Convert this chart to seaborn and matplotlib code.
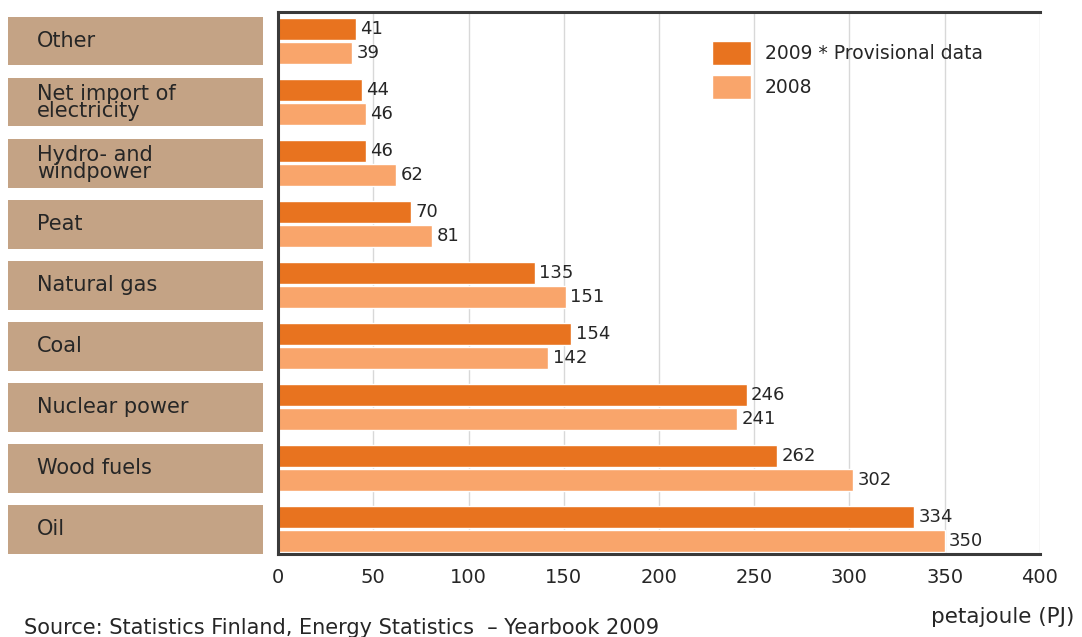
import numpy as np
import pandas as pd
import seaborn as sns
import matplotlib.pyplot as plt
from matplotlib.patches import Rectangle
from matplotlib.transforms import blended_transform_factory

categories = ["Other", "Net import of\nelectricity", "Hydro- and\nwindpower", "Peat",
              "Natural gas", "Coal", "Nuclear power", "Wood fuels", "Oil"]
values_2009 = [41, 44, 46, 70, 135, 154, 246, 262, 334]
values_2008 = [39, 46, 62, 81, 151, 142, 241, 302, 350]
series = ["2009 * Provisional data", "2008"]
xticks = [0, 50, 100, 150, 200, 250, 300, 350, 400]

dark = "#E8731F"
light = "#F9A56B"
box_color = "#C4A385"
text_color = "#262626"

df = pd.DataFrame({
    "category": categories * 2,
    "value": values_2009 + values_2008,
    "series": [series[0]] * len(categories) + [series[1]] * len(categories),
})

sns.set_style("white")
plt.rcParams["font.family"] = ["DejaVu Sans"]

fig = plt.figure(figsize=(10.82, 6.37), dpi=100)
ax = fig.add_axes([0.257, 0.130, 0.704, 0.851])

sns.barplot(data=df, y="category", x="value", hue="series", orient="h",
            palette=[dark, light], width=0.78, gap=0.06, saturation=1,
            order=categories, ax=ax)

for cont in ax.containers:
    ax.bar_label(cont, padding=3, fontsize=13, color=text_color)

ax.set_xlim(0, 400)
ax.set_ylim(8.41, -0.475)
ax.set_xticks(xticks)
ax.set_xticklabels([str(t) for t in xticks], fontsize=14, color=text_color)
ax.tick_params(axis="x", length=0, pad=10)
ax.set_yticks([])
ax.set_xlabel("")
ax.set_ylabel("")
ax.xaxis.grid(True, color="#D8D8D8", linewidth=1)
ax.set_axisbelow(True)
for side in ["left", "bottom", "top"]:
    ax.spines[side].set_color("#3A3A3A")
    ax.spines[side].set_linewidth(2.2)
ax.spines["right"].set_visible(False)

# category label boxes on the left
trans = blended_transform_factory(fig.transFigure, ax.transData)
for i, cat in enumerate(categories):
    ax.add_patch(Rectangle((8 / 1082, i - 0.40), 255 / 1082, 0.80, transform=trans,
                           facecolor=box_color, edgecolor="none", clip_on=False))
    ax.text(37 / 1082, i, cat, transform=trans, fontsize=15, color=text_color,
            va="center", ha="left", linespacing=0.82, clip_on=False)

leg = ax.legend(loc="upper left", bbox_to_anchor=(0.548, 0.978), frameon=False,
                fontsize=13.5, handlelength=2.05, handleheight=1.6,
                labelspacing=0.55, handletextpad=0.75)
for t in leg.get_texts():
    t.set_color(text_color)

fig.text(0.993, 0.022, "petajoule (PJ)", fontsize=15.5, color=text_color, ha="right")
fig.text(0.022, 0.030, "Source: Statistics Finland, Energy Statistics  \u2013 Yearbook 2009",
         fontsize=15, color=text_color, va="top")

fig.savefig("out.png", dpi=100)
